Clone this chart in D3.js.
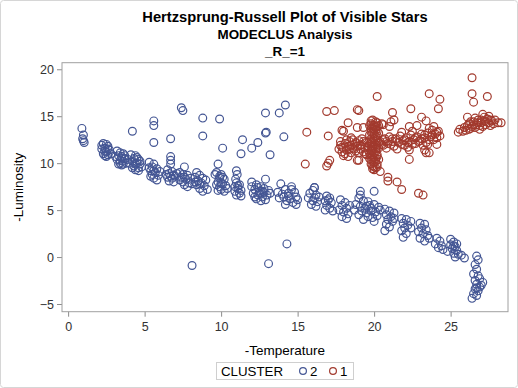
<!DOCTYPE html>
<html>
<head>
<meta charset="utf-8">
<script src="https://cdn.jsdelivr.net/npm/d3@7"></script>
<style>
  body { margin: 0; background: #fff; }
  svg { display: block; font-family: "Liberation Sans", Arial, sans-serif; }
</style>
</head>
<body>
<svg id="chart" width="518" height="388"></svg>
<script>
// tick values for both axes
const xTicks = [0, 5, 10, 15, 20, 25];
const yTicks = [-5, 0, 5, 10, 15, 20];

// cluster 2 (blue) : [-temperature, -luminosity]
const cluster2 = [
  [0.9,13.7],[1.0,13.0],[0.95,12.6],[1.05,12.2],[1.0,12.4],
  [2.3,12.1],[2.5,12.0],[2.6,11.8],[2.4,11.6],[2.2,11.5],[2.7,11.4],[2.5,11.2],[2.3,11.0],[2.6,10.9],[2.4,10.8],[2.8,11.0],[2.2,11.9],[2.6,11.5],[2.4,11.3],[2.5,10.7],
  [3.2,11.3],[3.4,11.1],[3.6,11.0],[3.3,10.8],[3.5,10.7],[3.7,10.5],[3.2,10.4],[3.4,10.3],[3.6,10.2],[3.8,10.0],[3.3,9.9],[3.5,9.8],[3.9,10.4],[3.1,10.7],[3.7,10.8],[3.5,10.5],[3.4,10.0],[3.6,9.9],
  [4.1,10.9],[4.4,10.8],[4.3,10.5],[4.6,10.4],[4.2,10.2],[4.5,10.0],[4.7,9.9],[4.3,9.7],[4.6,9.5],[4.4,9.3],[4.8,9.6],[4.0,10.0],[4.5,10.6],[4.2,9.5],[4.7,10.2],[4.4,9.9],[4.6,9.2],
  [5.3,10.1],[5.6,9.9],[5.5,9.6],[5.8,9.4],[5.4,9.2],[5.7,9.0],[5.5,8.8],[5.9,8.7],[5.6,8.4],[5.4,8.6],[5.8,8.2],[6.0,9.1],[5.3,9.5],[5.6,9.2],
  [6.7,10.7],[6.7,10.3],[6.7,9.9],[6.5,9.3],[6.8,9.1],[6.6,8.9],[6.9,8.7],[6.5,8.5],[6.8,8.4],[7.0,8.6],[6.6,8.1],[6.9,8.0],[6.4,8.8],[7.1,8.9],[6.7,8.6],
  [7.6,9.6],[7.3,9.0],[7.5,8.8],[7.8,8.7],[7.4,8.5],[7.7,8.3],[8.0,8.4],[7.5,8.0],[7.9,7.9],[7.6,7.7],[8.1,7.8],[7.3,8.2],[7.8,7.5],[7.6,8.5],
  [8.4,9.0],[8.6,8.7],[8.3,8.5],[8.8,8.4],[8.5,8.1],[9.0,8.2],[8.7,7.9],[8.4,7.7],[8.9,7.6],[8.6,7.3],[9.1,7.2],[8.8,7.0],[8.3,8.0],[8.6,7.8],
  [9.7,9.0],[10.0,8.8],[9.9,8.4],[10.2,8.3],[9.8,8.0],[10.1,7.8],[9.9,7.5],[10.3,7.6],[10.0,7.2],[9.8,7.1],[10.2,7.0],[10.4,7.3],[9.7,7.7],[10.0,7.9],
  [11.0,9.2],[11.05,8.8],[10.95,8.3],[11.0,7.9],[11.2,7.7],[10.9,7.5],[11.1,7.3],[11.3,7.1],[10.9,7.0],[11.2,6.8],[11.0,6.6],[11.3,6.5],[11.1,7.6],
  [12.0,8.0],[12.3,7.7],[12.6,7.5],[12.9,8.3],[12.2,7.2],[12.5,7.0],[12.8,7.3],[13.1,7.1],[12.1,6.8],[12.4,6.6],[12.7,6.4],[13.0,6.6],[12.3,6.2],[12.6,6.0],[12.9,6.1],[12.0,7.5],[13.2,6.8],[12.5,6.8],[12.8,6.9],[12.2,6.4],[12.4,7.4],[12.7,7.0],
  [13.9,7.8],[14.6,7.5],[14.2,7.2],[13.7,6.9],[14.0,6.7],[14.4,6.8],[14.8,6.9],[14.1,6.4],[14.5,6.2],[14.9,6.4],[13.8,6.3],[14.3,6.0],[14.7,5.8],[14.2,5.6],[15.0,6.1],[14.6,7.2],[14.9,5.6],[14.4,6.5],
  [15.8,6.8],[16.0,7.1],[16.2,6.6],[15.7,6.3],[16.0,6.0],[16.3,5.9],[15.9,5.6],[16.2,5.4],[16.4,6.4],[16.1,7.4],[16.9,6.5],[17.1,6.3],[16.8,6.0],[17.2,5.8],[16.9,5.5],[17.1,5.2],[16.8,5.0],[17.3,4.9],[17.0,6.1],[16.1,6.3],
  [17.8,6.1],[18.1,5.8],[17.9,5.5],[18.2,5.2],[17.7,5.0],[18.0,4.8],[18.3,4.6],[17.9,4.3],[18.2,4.1],[18.4,5.5],
  [19.1,7.0],[20.0,7.0],[19.0,6.3],[19.3,6.0],[19.6,5.9],[18.8,5.6],[19.1,5.4],[19.4,5.2],[19.7,5.5],[20.0,5.6],[20.3,5.3],[18.7,5.0],[19.2,4.9],[19.5,4.7],[19.8,4.9],[20.1,4.8],[20.4,5.0],[19.0,4.5],[19.6,4.3],[19.9,4.2],[20.2,4.4],[19.3,4.0],[20.0,3.8],[19.1,6.6],[19.5,5.4],[19.8,5.2],
  [20.7,5.1],[21.0,4.9],[21.3,4.7],[20.8,4.5],[21.1,4.3],[20.9,4.0],[21.2,3.8],[20.8,3.5],[21.0,3.2],[20.7,2.8],[21.3,4.1],
  [21.8,4.1],[22.1,4.0],[22.4,3.8],[21.9,3.6],[22.2,3.4],[22.0,3.1],[22.4,3.1],[21.8,2.8],[22.1,2.5],[21.9,2.1],
  [23.0,3.6],[23.3,3.5],[23.1,3.1],[23.4,2.9],[22.9,2.7],[23.2,2.5],[23.5,2.3],[23.0,2.0],[23.3,1.7],[23.6,2.0],
  [24.1,2.0],[24.3,1.7],[24.0,1.4],[24.4,1.2],[24.2,1.0],[24.5,0.8],[24.8,0.6],[25.0,1.9],[25.2,1.6],[25.0,1.3],[25.3,1.1],[25.1,0.9],[25.4,0.7],[25.2,0.4],[25.5,0.3],[25.3,0.0],[25.7,0.2],[25.9,-0.1],[25.4,1.4],[25.2,1.2],
  [26.7,0.1],[26.8,-0.3],[26.6,-0.8],[26.7,-1.3],[26.5,-1.8],[26.8,-2.0],[26.6,-2.5],[26.9,-2.3],[26.7,-2.9],[26.9,-3.2],[26.6,-3.4],[26.8,-3.6],[26.5,-3.9],[26.7,-4.1],[26.4,-4.4],[27.1,-2.7],[27.0,-3.0],[26.7,-3.3],
  [4.2,13.4],[5.6,14.5],[5.6,14.0],[5.6,12.2],[6.7,12.6],[7.4,15.9],[7.5,15.6],[8.8,14.8],[8.8,12.9],[9.9,14.7],[10.1,11.6],[11.4,12.5],[11.3,11.0],[12.0,11.6],[12.4,12.2],
  [12.9,15.35],[13.8,15.35],[14.2,16.2],[12.9,13.2],[12.95,13.3],[14.1,12.8],[13.2,10.9],[9.8,9.9],[9.6,8.8],[9.9,8.6],[10.1,8.5],[16.1,7.4],[14.3,1.4],[13.1,-0.7],[8.1,-0.9]
];

// cluster 1 (red)
const cluster1 = [
  [19.9,14.6],[20.1,14.4],[19.8,14.2],[20.0,14.0],[20.2,13.9],[19.9,13.7],[20.1,13.5],[19.8,13.3],[20.0,13.1],[20.2,12.9],[19.9,12.7],[20.1,12.5],[19.8,12.3],[20.0,12.1],[20.2,11.9],[19.9,11.7],[20.1,11.5],[19.8,11.3],[20.0,11.1],[20.2,10.9],[19.9,10.7],[20.1,10.5],[19.8,10.3],[20.0,10.1],[20.2,9.9],[19.9,9.7],[20.1,9.5],[20.0,9.3],[19.7,12.0],[20.3,12.2],[19.7,11.0],[20.3,11.6],[19.7,13.0],[20.3,13.2],[20.0,12.6],[20.0,11.8],[20.0,10.6],[20.0,13.6],
  [19.8,14.5],[20.2,14.3],[19.9,14.0],[20.1,13.8],[19.8,13.6],[20.2,13.4],[19.9,13.2],[20.1,12.8],[19.8,12.6],[20.2,12.4],[19.9,12.2],[20.1,12.0],[19.8,11.8],[20.2,11.6],[19.9,11.4],[20.1,11.2],[19.8,10.9],[20.2,10.7],[19.9,10.4],[20.1,10.2],[19.8,9.9],[20.2,9.6],[19.9,9.4],[20.0,9.6],[20.3,10.4],[19.7,10.5],[20.3,14.0],[19.7,14.0],
  [17.7,11.5],[17.9,11.2],[17.8,11.9],[18.0,11.6],[18.1,12.1],[18.2,11.4],[18.3,11.8],[18.4,12.3],[18.5,11.1],[18.6,11.6],[18.7,12.0],[18.8,11.3],[18.9,11.8],[19.0,12.4],[19.1,11.5],[19.2,12.0],[19.3,11.2],[19.4,11.7],[19.5,12.2],[19.6,11.4],[18.0,10.8],[18.3,10.7],[18.6,12.5],[19.2,12.6],[17.8,12.3],[19.5,10.9],
  [17.9,11.7],[18.1,11.0],[18.4,11.5],[18.5,11.9],[18.8,12.2],[19.0,11.1],[19.1,11.9],[19.3,12.3],[19.4,11.0],[19.6,11.8],[18.2,12.5],[18.7,11.5],
  [20.4,12.3],[20.6,11.9],[20.7,12.6],[20.9,12.1],[21.0,12.8],[21.2,12.3],[21.3,11.8],[21.4,12.6],[21.6,12.2],[21.7,12.9],[21.9,12.4],[22.0,11.9],[22.1,12.7],[22.3,12.3],[22.4,13.0],[22.6,12.5],[22.7,12.1],[22.8,12.8],[23.0,12.4],[23.1,13.1],[23.3,12.7],[23.4,12.2],[23.5,13.2],[23.7,12.8],[23.8,13.5],[23.9,12.5],[24.0,13.1],[24.2,13.4],[24.1,12.7],[23.6,13.7],[21.8,13.3],[22.5,13.4],[20.8,11.6],[21.5,11.5],[22.2,11.7],[23.2,11.9],[24.3,12.9],[23.9,13.9],
  [20.5,12.0],[20.6,12.5],[20.8,12.3],[21.1,12.0],[21.2,12.6],[21.5,12.4],[21.8,12.0],[22.0,12.5],[22.2,12.2],[22.5,12.0],[22.7,12.7],[22.9,12.3],[23.1,12.6],[23.3,13.0],[23.6,12.5],[23.8,13.0],[24.1,13.3],[23.5,12.0],
  [16.9,15.5],[17.4,15.6],[15.6,13.3],[17.0,12.9],[15.5,9.9],[16.9,9.7],[17.1,10.3],[17.0,10.0],[17.9,13.5],[18.0,13.4],[18.3,14.3],[18.5,12.7],[18.9,13.8],[19.3,13.8],[18.9,15.7],[19.0,15.6],[20.2,17.1],[20.5,14.2],[21.1,14.4],[21.3,14.6],[21.0,13.9],[20.6,14.1],[21.2,15.4],[22.4,15.8],[22.3,13.9],[22.8,14.0],[23.1,14.9],[23.4,14.5],[23.6,17.4],[24.3,16.8],[24.2,15.8],[24.1,12.0],[22.3,10.4],[22.3,11.4],[23.3,11.4],[23.6,11.1],[23.4,11.1],[19.0,10.3],[20.4,9.1],[20.9,8.5],[20.9,8.1],[21.5,8.0],[21.8,7.2],[22.9,6.8],[23.2,6.6],[18.9,10.3],
  [25.6,13.6],[25.8,13.4],[25.9,13.8],[26.1,14.0],[26.0,13.5],[26.3,13.7],[26.2,14.2],[26.4,13.9],[26.5,14.4],[26.6,13.8],[26.7,14.1],[26.8,14.6],[26.9,14.0],[27.0,14.3],[27.1,15.2],[27.2,14.5],[27.3,14.1],[27.4,14.7],[27.5,14.3],[27.6,14.0],[27.7,14.5],[27.8,14.2],[27.9,14.6],[28.1,14.3],[28.3,14.3],[26.1,14.9],[26.6,14.8],[27.5,15.0],[25.5,13.3],[26.9,13.6],[27.2,14.9],
  [26.3,14.4],[26.5,14.1],[26.8,14.3],[27.0,14.6],[27.3,14.4],[27.6,14.6],[26.2,13.6],[27.1,13.9],
  [26.4,19.1],[26.4,17.4],[26.5,16.5],[27.4,17.1]
];

const clusterNames = ["2", "1"];
const colors = ["#445694", "#A23A2E"];

const svg = d3.select("#chart");
const plotLeft = 62, plotRight = 508, plotTop = 62.7, plotBottom = 311.7;

// outer border
svg.append("rect")
  .attr("x", 0.5).attr("y", 0.5)
  .attr("width", 517).attr("height", 387)
  .attr("rx", 3)
  .attr("fill", "none")
  .attr("stroke", "#d6d6d6");

let x = d3.scaleLinear().domain([-0.4, 28.75]).range([plotLeft, plotRight]);
let y = d3.scaleLinear().domain([-5.82, 20.7]).range([plotBottom, plotTop]);

// titles
svg.append("text").attr("x", 285).attr("y", 22)
  .attr("text-anchor", "middle").attr("font-size", 14.7).attr("font-weight", "bold")
  .attr("fill", "#000").text("Hertzsprung-Russell Plot of Visible Stars");
svg.append("text").attr("x", 285).attr("y", 39)
  .attr("text-anchor", "middle").attr("font-size", 13.4).attr("font-weight", "bold")
  .attr("fill", "#000").text("MODECLUS Analysis");
svg.append("text").attr("x", 285).attr("y", 56)
  .attr("text-anchor", "middle").attr("font-size", 13.4).attr("font-weight", "bold")
  .attr("fill", "#000").text("_R_=1");

// axes
let xAxis = svg.append("g")
  .attr("transform", "translate(0," + plotBottom + ")")
  .call(d3.axisBottom(x).tickValues(xTicks).tickSize(5).tickPadding(5).tickSizeOuter(0));
let yAxis = svg.append("g")
  .attr("transform", "translate(" + plotLeft + ",0)")
  .call(d3.axisLeft(y).tickValues(yTicks).tickSize(5).tickPadding(3).tickSizeOuter(0));

[xAxis, yAxis].forEach(function(a) {
  a.select(".domain").remove();
  a.selectAll(".tick line").attr("stroke", "#8c8c8c");
  a.selectAll(".tick text")
    .attr("font-size", 12.5)
    .attr("font-family", "\"Liberation Sans\", Arial, sans-serif")
    .attr("fill", "#333");
});

// frame
svg.append("rect")
  .attr("x", plotLeft).attr("y", plotTop)
  .attr("width", plotRight - plotLeft).attr("height", plotBottom - plotTop)
  .attr("fill", "none")
  .attr("stroke", "#a0a0a0");

// axis labels
svg.append("text").attr("x", 285).attr("y", 355)
  .attr("text-anchor", "middle").attr("font-size", 13.5).attr("fill", "#000")
  .text("-Temperature");
svg.append("text")
  .attr("transform", "translate(23," + ((plotTop + plotBottom) / 2) + ") rotate(-90)")
  .attr("text-anchor", "middle").attr("font-size", 13.5).attr("fill", "#000")
  .text("-Luminosity");

// points
[cluster2, cluster1].forEach(function(data, i) {
  svg.append("g").selectAll("circle")
    .data(data)
    .enter()
    .append("circle")
    .attr("cx", function(d) { return x(d[0]); })
    .attr("cy", function(d) { return y(d[1]); })
    .attr("r", 3.9)
    .attr("fill", "none")
    .attr("stroke", colors[i])
    .attr("stroke-width", 1.2);
});

// legend
let legend = svg.append("g");
legend.append("rect")
  .attr("x", 216.5).attr("y", 362.5)
  .attr("width", 137).attr("height", 17)
  .attr("fill", "none").attr("stroke", "#cfcfcf");
legend.append("text").attr("x", 221).attr("y", 375.5)
  .attr("font-size", 13.3).attr("fill", "#000").text("CLUSTER");
let legendX = [303, 333];
clusterNames.forEach(function(name, i) {
  legend.append("circle")
    .attr("cx", legendX[i]).attr("cy", 371)
    .attr("r", 3.4)
    .attr("fill", "none")
    .attr("stroke", colors[i])
    .attr("stroke-width", 1.2);
  legend.append("text")
    .attr("x", legendX[i] + 7).attr("y", 375.5)
    .attr("font-size", 13.3).attr("fill", "#000")
    .text(name);
});
</script>
</body>
</html>
